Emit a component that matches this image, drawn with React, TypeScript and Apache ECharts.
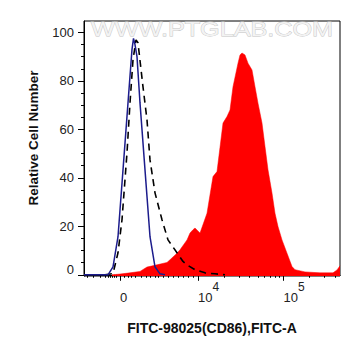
import React, { useEffect, useRef } from "react";
import * as echarts from "echarts";

// X axis: display channel (0..1024) of a biexponential FITC-A scale
const X_MIN = 0;
const X_MAX = 1024;
const Y_MIN = -0.5;
const Y_MAX = 104.7;

const xMajorTicks = [144, 456, 798];
const xLabelBase = ["0", "10", "10"];
const xLabelExp = ["", "4", "5"];
const xMinorTicks = [
  12, 36, 64, 84, 96, 104, 112, 120, 128, 160, 176, 188, 204, 228, 248, 264, 284, 296, 316, 336, 356, 376, 396, 416, 436,
  559, 619, 662, 695, 722, 745, 765, 782, 901, 961, 1004,
];
const yMajorTicks = [0, 20, 40, 60, 80, 100];
const yMinorTicks = [5, 10, 15, 25, 30, 35, 45, 50, 55, 65, 70, 75, 85, 90, 95];

const xTitle = "FITC-98025(CD86),FITC-A";
const yTitle = "Relative Cell Number";
const watermark = "WWW.PTGLAB.COM";

// Sample (red filled)
const sampleX = [112, 144, 184, 224, 252, 292, 332, 344, 372, 384, 412, 424, 436, 444, 464, 492, 516, 532, 556, 572, 584, 596, 616, 624, 632, 644, 656, 672, 684, 696, 712, 724, 736, 752, 764, 776, 792, 812, 832, 844, 884, 944, 996, 1012, 1024];
const sampleY = [0, 0.3, 0.8, 1.4, 3.2, 4.1, 5.1, 6.2, 8.9, 10.3, 14.4, 17.2, 18.6, 19.3, 17.2, 25.4, 40.5, 42.6, 62.6, 65.3, 68, 77.6, 87.3, 90.7, 91.5, 90.7, 87.3, 84.5, 77.6, 70.8, 62.6, 52.9, 43.3, 33.7, 25.4, 19.9, 14.4, 8.9, 3.4, 2.1, 1.2, 0.8, 0.8, 2, 3.7];

// Isotype control (blue line)
const isoX = [0, 96, 116, 136, 156, 176, 192, 198, 204, 212, 224, 244, 264, 284, 304, 324];
const isoY = [0, 0, 3.3, 15.7, 43.3, 70.9, 93, 97.5, 95, 90, 70.9, 43.3, 15.7, 3.3, 0.4, 0];

// Unstained (black dashed)
const blankX = [84, 116, 136, 152, 172, 184, 196, 208, 216, 236, 252, 264, 284, 312, 336, 372, 396, 412, 444, 484, 524, 564];
const blankY = [0, 0.5, 9.1, 22.7, 50.3, 70.9, 88.7, 96.9, 95.7, 77.5, 63.9, 47.4, 33.8, 22.7, 14.4, 9.1, 5.5, 4.1, 2.1, 0.8, 0.4, 0];

const pairs = (xs: number[], ys: number[]) => xs.map((x, i) => [x, ys[i]]);

const FONT = "'Liberation Sans', Arial, sans-serif";

export default function App() {
  const ref = useRef<HTMLDivElement>(null);
  useEffect(() => {
    const chart = echarts.init(ref.current!, null, { renderer: "svg" });
    chart.setOption({
      animation: false,
      grid: { left: 84, top: 21, right: 21, bottom: 80, show: true, borderColor: "#000", borderWidth: 1, backgroundColor: "#fff" },
      graphic: [
        {
          type: "text",
          x: 212,
          y: 29,
          scaleX: 1.2,
          z: 0,
          silent: true,
          style: {
            text: watermark,
            fontSize: 21,
            fontFamily: FONT,
            align: "center",
            verticalAlign: "middle",
            fill: "#f3f3f3",
            stroke: "#c4c4c4",
            lineWidth: 0.8,
          },
        },
        {
          type: "text",
          x: 33,
          y: 138,
          rotation: Math.PI / 2,
          silent: true,
          style: {
            text: yTitle,
            fontSize: 13.5,
            fontWeight: "bold",
            fontFamily: FONT,
            fill: "#111",
            align: "center",
            verticalAlign: "middle",
          },
        },
      ],
      xAxis: [
        {
          type: "value",
          min: X_MIN,
          max: X_MAX,
          position: "bottom",
          splitLine: { show: false },
          axisLine: { show: true, lineStyle: { color: "#000", width: 1 } },
          axisTick: { show: true, length: 6, customValues: xMajorTicks, lineStyle: { color: "#000" } },
          axisLabel: {
            customValues: xMajorTicks,
            align: "left",
            margin: 5,
            formatter: (v: number) => {
              const i = xMajorTicks.indexOf(v);
              return "{b|" + xLabelBase[i] + "}" + (xLabelExp[i] ? "{s|" + xLabelExp[i] + "}" : "");
            },
            rich: {
              b: { fontSize: 13, fontFamily: FONT, color: "#222", padding: [10, 0, 0, 0], verticalAlign: "bottom" },
              s: { fontSize: 12, fontFamily: FONT, color: "#222", verticalAlign: "top" },
            },
          },
          name: xTitle,
          nameLocation: "middle",
          nameGap: 45,
          nameTextStyle: { fontSize: 14, fontWeight: "bold", fontFamily: FONT, color: "#111" },
        },
        {
          type: "value",
          min: X_MIN,
          max: X_MAX,
          position: "bottom",
          splitLine: { show: false },
          axisLine: { show: false },
          axisTick: { show: true, length: 3, customValues: xMinorTicks, lineStyle: { color: "#000" } },
          axisLabel: { show: false },
        },
      ],
      yAxis: [
        {
          type: "value",
          min: Y_MIN,
          max: Y_MAX,
          position: "left",
          splitLine: { show: false },
          axisLine: { show: true, lineStyle: { color: "#000", width: 1 } },
          axisTick: { show: true, length: 6, customValues: yMajorTicks, lineStyle: { color: "#000" } },
          axisLabel: {
            customValues: yMajorTicks,
            margin: 10,
            fontSize: 13,
            fontFamily: FONT,
            color: "#222",
            formatter: (v: number) => (v === 0 ? "{z|0}" : String(v)),
            rich: { z: { fontSize: 13, fontFamily: FONT, color: "#222", padding: [0, 0, 10, 0] } },
          },
        },
        {
          type: "value",
          min: Y_MIN,
          max: Y_MAX,
          position: "left",
          splitLine: { show: false },
          axisLine: { show: false },
          axisTick: { show: true, length: 3, customValues: yMinorTicks, lineStyle: { color: "#000" } },
          axisLabel: { show: false },
        },
      ],
      series: [
        {
          type: "line",
          data: pairs(sampleX, sampleY),
          symbol: "none",
          lineStyle: { width: 0.5, color: "#ff0000" },
          areaStyle: { color: "#ff0000", opacity: 1, origin: "start" },
          z: 2,
        },
        {
          type: "line",
          data: pairs(blankX, blankY),
          symbol: "none",
          lineStyle: { width: 1.6, color: "#000", type: [7, 5] },
          z: 3,
        },
        {
          type: "line",
          data: pairs(isoX, isoY),
          symbol: "none",
          lineStyle: { width: 1.5, color: "#1c1c8c" },
          z: 4,
        },
      ],
    });
    return () => chart.dispose();
  }, []);
  return <div ref={ref} style={{ position: "absolute", left: 0, top: 0, width: 361, height: 356 }} />;
}
